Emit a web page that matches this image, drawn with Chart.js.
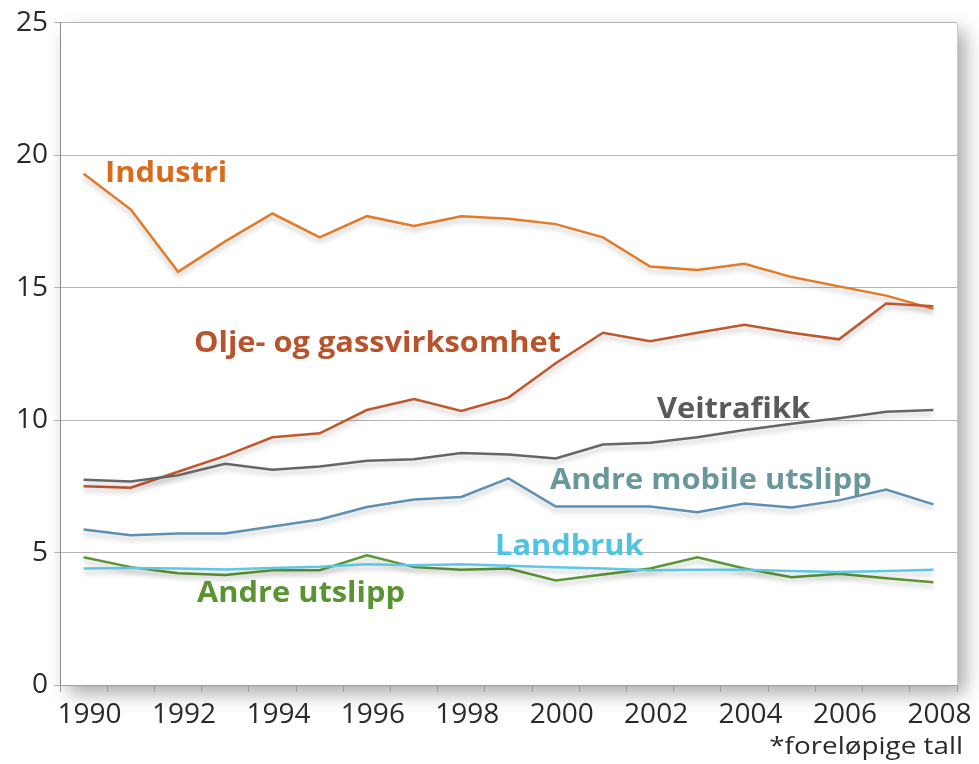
<!DOCTYPE html>
<html>
<head>
<meta charset="utf-8">
<script src="https://cdn.jsdelivr.net/npm/chart.js@4.4.1/dist/chart.umd.min.js"></script>
<style>
  html, body { margin: 0; padding: 0; background: #fff; }
  #wrap { width: 979px; height: 764px; position: relative; }
</style>
</head>
<body>
<div id="wrap"><canvas id="chart" width="979" height="764"></canvas></div>
<script>
// årstall og verdier lest av figuren
const years = ['1990','1991','1992','1993','1994','1995','1996','1997','1998','1999',
               '2000','2001','2002','2003','2004','2005','2006','2007','2008'];

const industri     = [19.3, 17.95, 15.6, 16.75, 17.8, 16.9, 17.7, 17.33, 17.7, 17.6, 17.4, 16.9, 15.8, 15.67, 15.9, 15.4, 15.05, 14.7, 14.2];
const oljeGass     = [7.5, 7.45, 8.05, 8.65, 9.35, 9.5, 10.38, 10.8, 10.35, 10.85, 12.15, 13.3, 12.98, 13.3, 13.6, 13.3, 13.05, 14.4, 14.3];
const veitrafikk   = [7.75, 7.68, 7.92, 8.35, 8.13, 8.25, 8.47, 8.52, 8.76, 8.7, 8.55, 9.08, 9.15, 9.35, 9.63, 9.86, 10.07, 10.32, 10.38];
const andreMobile  = [5.87, 5.65, 5.72, 5.72, 5.98, 6.25, 6.72, 7.0, 7.1, 7.8, 6.74, 6.74, 6.74, 6.52, 6.85, 6.7, 6.97, 7.38, 6.82];
const landbruk     = [4.4, 4.42, 4.4, 4.36, 4.42, 4.46, 4.56, 4.52, 4.56, 4.5, 4.45, 4.4, 4.33, 4.35, 4.35, 4.3, 4.27, 4.3, 4.35];
const andreUtslipp = [4.82, 4.45, 4.22, 4.15, 4.33, 4.33, 4.9, 4.45, 4.35, 4.4, 3.95, 4.17, 4.4, 4.82, 4.4, 4.07, 4.2, 4.03, 3.88];

const yTicks = [0, 5, 10, 15, 20, 25];

// etiketter inne i plottet (tekst, farge, venstre x, midt y)
const seriesLabels = [
  { text: 'Industri',               color: '#d96b1d', x: 105, y: 174 },
  { text: 'Olje- og gassvirksomhet', color: '#b9532b', x: 194, y: 344 },
  { text: 'Veitrafikk',             color: '#5a5a5a', x: 657, y: 410 },
  { text: 'Andre mobile utslipp',   color: '#6a979b', x: 550, y: 481 },
  { text: 'Landbruk',               color: '#4fc3e2', x: 495, y: 547 },
  { text: 'Andre utslipp',          color: '#5a9332', x: 197, y: 594 }
];

const FONT = '"Open Sans", "DejaVu Sans", sans-serif';

// hvit plottflate med skygge bak
const panelShadow = {
  id: 'panelShadow',
  beforeDraw(chart) {
    const { ctx, chartArea: a } = chart;
    ctx.save();
    ctx.shadowColor = 'rgba(0,0,0,0.35)';
    ctx.shadowBlur = 18;
    ctx.shadowOffsetX = 8;
    ctx.shadowOffsetY = 8;
    ctx.fillStyle = '#fff';
    ctx.fillRect(a.left, a.top, a.right - a.left, a.bottom - a.top);
    ctx.restore();
    ctx.save();
    ctx.strokeStyle = '#c8c8c8';
    ctx.lineWidth = 1;
    ctx.beginPath();
    ctx.moveTo(a.right + 0.5, a.top);
    ctx.lineTo(a.right + 0.5, a.bottom);
    ctx.stroke();
    ctx.restore();
  }
};

// myk skygge under linjene
const lineShadow = {
  id: 'lineShadow',
  beforeDatasetsDraw(chart) {
    const ctx = chart.ctx;
    ctx.save();
    ctx.shadowColor = 'rgba(0,0,0,0.22)';
    ctx.shadowBlur = 5;
    ctx.shadowOffsetY = 4;
  },
  afterDatasetsDraw(chart) {
    chart.ctx.restore();
  }
};

// tekst litt strukket i bredden, som i originalen
function stretchedText(ctx, text, x, y, sx) {
  ctx.save();
  ctx.translate(x, y);
  ctx.scale(sx, 1);
  ctx.fillText(text, 0, 0);
  ctx.restore();
}

// seriesnavn og fotnote
const textLabels = {
  id: 'textLabels',
  afterDraw(chart) {
    const ctx = chart.ctx;
    ctx.save();
    ctx.textBaseline = 'middle';
    ctx.textAlign = 'left';
    ctx.font = 'bold 28px ' + FONT;
    seriesLabels.forEach(l => {
      ctx.fillStyle = l.color;
      stretchedText(ctx, l.text, l.x, l.y, 1.1);
    });
    ctx.font = '24px ' + FONT;
    ctx.fillStyle = '#2a2a2a';
    ctx.textAlign = 'right';
    stretchedText(ctx, '*foreløpige tall', 963, 747, 1.16);
    ctx.restore();
  }
};

function line(data, color) {
  return {
    data,
    borderColor: color,
    borderWidth: 2.5,
    pointRadius: 0,
    tension: 0,
    fill: false
  };
}

new Chart(document.getElementById('chart'), {
  type: 'line',
  data: {
    labels: years,
    datasets: [
      line(landbruk, '#5cc8e6'),
      line(andreUtslipp, '#5b9634'),
      line(andreMobile, '#5e8fb5'),
      line(veitrafikk, '#666666'),
      line(oljeGass, '#c1572d'),
      line(industri, '#e27a26')
    ]
  },
  options: {
    responsive: false,
    animation: false,
    layout: { padding: { top: 21, right: 22, left: 0, bottom: 0 } },
    plugins: { legend: { display: false }, tooltip: { enabled: false } },
    scales: {
      x: {
        type: 'category',
        offset: true,
        grid: { offset: true, drawOnChartArea: false, color: '#9a9a9a', tickLength: 7 },
        border: { color: '#a0a0a0' },
        ticks: {
          autoSkip: false,
          maxRotation: 0,
          padding: 6,
          labelOffset: 6,
          color: '#2a2a2a',
          font: { family: FONT, size: 28 },
          callback: (v, i) => (i % 2 === 0 ? years[i] : '')
        },
        afterFit: s => { s.height = 79; }
      },
      y: {
        min: 0,
        max: 25,
        afterBuildTicks: s => { s.ticks = yTicks.map(v => ({ value: v })); },
        grid: { color: '#b4b4b4', tickLength: 6 },
        border: { color: '#8a8a8a' },
        ticks: {
          padding: 6,
          color: '#2a2a2a',
          font: { family: FONT, size: 28 }
        },
        afterFit: s => { s.width = 60; }
      }
    }
  },
  plugins: [panelShadow, lineShadow, textLabels]
});
</script>
</body>
</html>
